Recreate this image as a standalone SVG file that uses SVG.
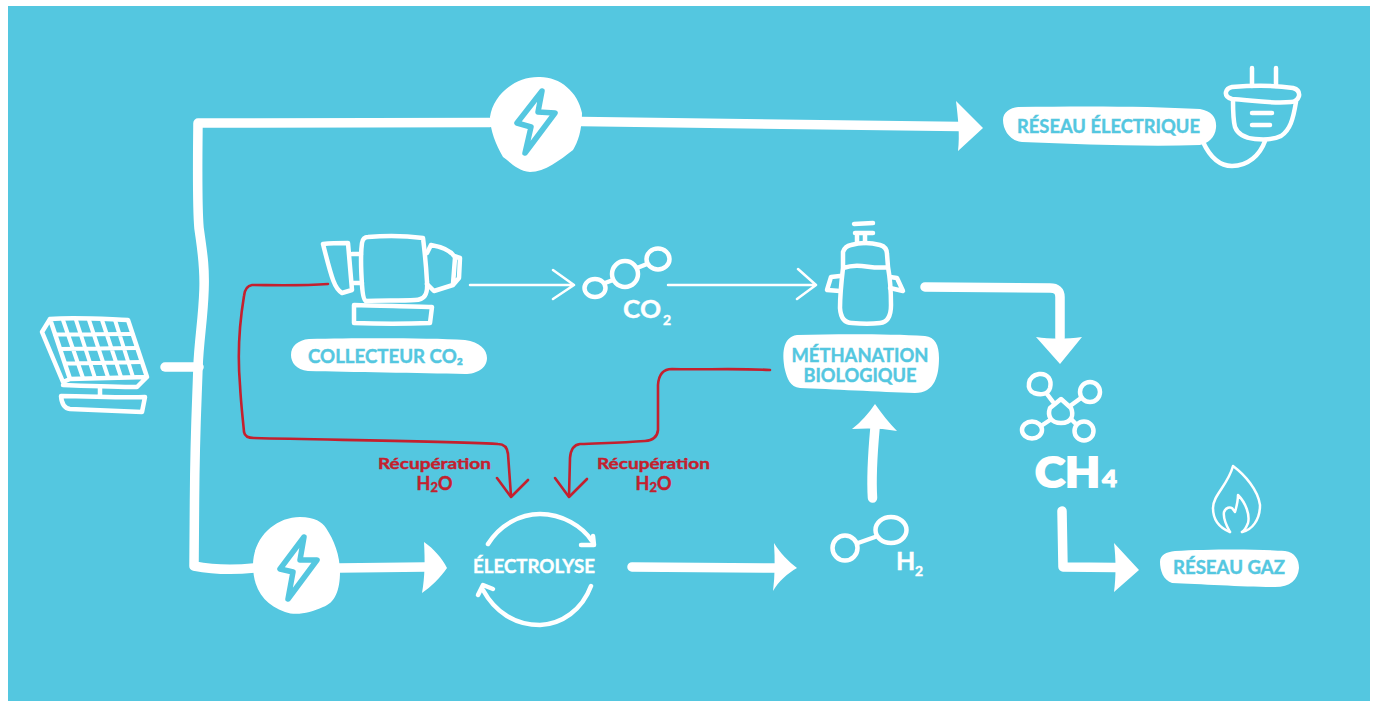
<svg xmlns="http://www.w3.org/2000/svg" width="1375" height="702" viewBox="0 0 1375 702">
<style>
text{font-family:Lato,"Liberation Sans",sans-serif;font-weight:700}
.w{fill:none;stroke:#fff;stroke-width:4.500;stroke-linecap:round;stroke-linejoin:round}
.t{fill:none;stroke:#fff;stroke-width:9.500;stroke-linecap:round;stroke-linejoin:round}
.th{fill:none;stroke:#fff;stroke-width:2.500;stroke-linecap:round;stroke-linejoin:round}
.r{fill:none;stroke:#c4202e;stroke-width:2.600;stroke-linecap:round;stroke-linejoin:round}
.h{fill:#fff;stroke:none}
.b{fill:#fff;stroke:none}
.bolt{fill:#fff;stroke:#54c7e0;stroke-width:5.500;stroke-linejoin:round}
.lb{fill:#54c7e0;stroke:#54c7e0;stroke-width:.4;font-size:18px;text-anchor:middle}
.wt{fill:#fff;stroke:#fff;stroke-width:.4}
.rt{fill:#c4202e;stroke:#c4202e;stroke-width:.4;font-size:16px;text-anchor:middle}
</style>
<rect width="1375" height="702" fill="#fff"/>
<rect x="8" y="6" width="1362" height="695" fill="#54c7e0"/>

<g id="connectors">
<path class="t" d="M165 367H199"/>
<path class="t" d="M490 122.500L198 123C197.500 170 197 205 199 228C202 250 205 265 204 290C203 320 199 340 198 367C197 400 195 430 194.500 500L194 566C215 570 235 570 254 568"/>
<path class="t" d="M581 121.500L960 126.500"/>
<path class="h" d="M956 101L983 128L958 151C960 135 958 118 956 101Z"/>
<path class="t" d="M339 568L425 567"/>
<path class="h" d="M424 542C434 549 442 558 447 568C440 578 431 587 422 593C425 577 425 560 424 542Z"/>
<path class="t" d="M632 567L775 568"/>
<path class="h" d="M774 543C780 553 789 562 797 568C788 573 778 582 773 591C775 576 775 559 774 543Z"/>
<path class="t" d="M872.500 498C871 475 873 450 875 428"/>
<path class="h" d="M852 429C861 422 869 413 875 404C882 414 889 423 897 431C882 428 866 428 852 429Z"/>
<path class="t" d="M925 287L1050 288Q1060 288 1060 297L1060 338"/>
<path class="h" d="M1036 337C1050 339 1067 339 1082 337L1060 364Z"/>
<path class="t" d="M1062 511L1063 567L1116 567.500"/>
<path class="h" d="M1114 543L1139 570L1114 592C1116 577 1116 559 1114 543Z"/>
<path class="th" d="M470 285H574M553 270L574 285L553 299"/>
<path class="th" d="M668 285H815M798 269L816 285L797 299"/>
<path class="r" d="M328 284C300 286 270 285 252 285Q245 286 244 296C240 320 237 350 240 385C241 405 243 420 244 432Q245 438 254 438C330 440 430 441 498 444Q507 444 508 454L511 496"/>
<path class="r" d="M497 478L511 497L528 480"/>
<path class="r" d="M770 370C735 368 700 370 672 369Q659 369 658 385L658 430Q657 440 645 441C620 443 600 443 580 444Q571 445 570 458L569 496"/>
<path class="r" d="M555 478L569 497L587 479"/>
</g>

<g id="solar">
<path class="w" d="M50 319C76 317 102 319 128 320L147 377L70 379ZM50 319L42 332L63 382L70 379M63 385C90 386 115 387 137 387L147 377"/>
<path class="th" style="stroke-width:4" d="M55 334.500L132.500 334M60 349L137 348M65 363.500L141.500 362M63 320L83 378M76 320L95 378M89 320L108 377M102 320L121 377M115 320L133 377"/>
<path class="w" d="M100 388V395M61 396C90 396 120 398 145 397L142 412C120 411 95 410 70 409Q62 408 61 396Z"/>
</g>

<g id="bolt-top">
<path class="b" d="M540 77C560 77 578 92 582 113C582 130 578 142 573 150C560 160 545 172 530 172C518 171 510 162 503 157C496 145 490 130 490 117C493 95 515 76 540 77Z"/>
<path class="bolt" d="M542 91L517 123L531 127L525 153L555 113L538 112Z"/>
</g>

<g id="bolt-bottom">
<path class="b" d="M300 517C315 517 322 522 326 528C334 540 340 555 340 572C340 590 335 603 323 607C310 613 296 616 285 612C265 605 253 590 253 565C253 538 275 517 300 517Z"/>
<path class="bolt" d="M304 537L280 569L293 572L288 599L317 560L300 560Z"/>
</g>

<g id="collector">
<path class="w" d="M368 237C390 235 408 236 423 238Q426 262 427 282C428 295 424 300 415 300C400 301 380 300 366 301Q363 300 362 285C361 270 361 250 362 243Q363 237 368 237Z"/>
<path class="w" d="M323 244C332 243 340 243 348 243L352 290L342 293C335 289 332 280 323 244ZM352 254H361M352 283H362"/>
<path class="w" d="M427 253L431 245C442 247 450 250 454 256L460 258L459 278L453 285L434 291L427 284M455 258L453 284"/>
<path class="w" d="M354 305C380 306 410 306 432 307L430 323C405 324 380 324 354 323Z"/>
</g>
<g id="collector-label">
<path class="b" d="M309 339C360 338 430 338 465 340C480 342 487 350 487 358C487 368 477 374 465 374C420 373 350 372 308 371C296 370 291 362 291 355C291 346 298 340 309 339Z"/>
<text class="lb" x="385.500" y="363" textLength="155" lengthAdjust="spacingAndGlyphs">COLLECTEUR CO₂</text>
</g>

<g id="co2">
<ellipse class="w" cx="595" cy="288" rx="10.500" ry="9"/>
<circle class="w" cx="625" cy="274" r="13"/>
<ellipse class="w" cx="658" cy="259" rx="11.500" ry="10.500"/>
<path class="w" d="M605 283L613 280M637 268L647 264"/>
<text class="wt" x="623" y="318" font-size="25" textLength="38" lengthAdjust="spacingAndGlyphs">CO</text>
<text class="wt" x="663" y="325" font-size="14">2</text>
</g>

<g id="bottle">
<path class="w" d="M854 224L873 223M855 233H873M857 233V243M865 233V243"/>
<path class="w" d="M843 268V252Q845 246 851 245C862 242 872 243 880 245Q887 247 887 254L888 267C870 270 862 262 843 268ZM843 268C841 285 840 298 840 308Q841 323 852 323C862 324 872 324 880 323Q891 322 891 305C891 290 890 278 888 267"/>
<path class="w" d="M840 276L831 277L827 290L840 291M890 277L897 278L903 291L890 288"/>
</g>
<g id="methanation-label">
<path class="b" d="M797 335C840 334 890 334 925 336C935 337 939 345 939 358C939 375 935 393 915 393C880 392 830 389 800 388C790 387 787 378 785 370C782 355 782 337 797 335Z"/>
<text class="lb" x="860" y="361.500" textLength="137" lengthAdjust="spacingAndGlyphs">MÉTHANATION</text>
<text class="lb" x="860" y="381.500" textLength="113" lengthAdjust="spacingAndGlyphs">BIOLOGIQUE</text>
</g>

<g id="recup-left"><text class="rt" x="434.500" y="469" textLength="113" lengthAdjust="spacingAndGlyphs">Récupération</text><text class="rt" x="434.500" y="490" style="font-size:18px">H<tspan dy="2" style="font-size:13px">2</tspan><tspan dy="-2">O</tspan></text></g>
<g id="recup-right"><text class="rt" x="653.500" y="469" textLength="113" lengthAdjust="spacingAndGlyphs">Récupération</text><text class="rt" x="653.500" y="490" style="font-size:18px">H<tspan dy="2" style="font-size:13px">2</tspan><tspan dy="-2">O</tspan></text></g>

<g id="electrolyse">
<path class="w" d="M488 544C500 525 520 514 540 514C562 514 582 526 592 541"/>
<path class="w" d="M581 545L594 545L593 536"/>
<path class="w" d="M591 586C582 610 562 624 540 625C515 625 495 612 483 590"/>
<path class="w" d="M478 595L483 585L493 589"/>
<text class="wt" x="534" y="573" text-anchor="middle" font-size="18" textLength="122" lengthAdjust="spacingAndGlyphs">ÉLECTROLYSE</text>
</g>

<g id="h2">
<circle class="w" cx="845" cy="548" r="12.500"/>
<ellipse class="w" cx="891" cy="530" rx="15.500" ry="13"/>
<path class="w" d="M858 543L875 537"/>
<text class="wt" x="896" y="570" font-size="25">H</text>
<text class="wt" x="915" y="576" font-size="14">2</text>
</g>

<g id="reseau-electrique">
<path class="b" d="M1018 107C1080 106 1150 106 1200 109C1212 111 1217 118 1216 128C1215 138 1208 143 1200 145C1140 147 1080 144 1022 142C1010 141 1003 130 1003 120C1003 112 1010 108 1018 107Z"/>
<text class="lb" x="1108.500" y="133" textLength="183" lengthAdjust="spacingAndGlyphs">RÉSEAU ÉLECTRIQUE</text>
<path class="w" d="M1252 68V86M1276 68V86"/>
<path class="w" d="M1232 87C1255 85 1280 86 1293 88Q1300 90 1299 96Q1297 102 1291 102C1270 104 1250 100 1232 99Q1225 97 1226 92Q1227 88 1232 87Z"/>
<path class="w" d="M1233 100C1233 110 1233 120 1235 127C1238 135 1245 138 1255 139C1265 140 1275 139 1281 136C1290 130 1293 120 1296 102"/>
<path class="w" d="M1252 113H1272M1252 125H1270"/>
<path class="w" d="M1203 142C1210 157 1220 166 1232 166C1248 166 1260 155 1265 141"/>
</g>

<g id="ch4">
<path class="w" d="M1061 399L1071 408C1074 415 1072 423 1061 423C1051 423 1047 416 1050 408Z"/>
<path class="w" d="M1039 374C1048 373 1052 380 1050 388C1048 395 1040 395 1034 393C1026 390 1027 376 1039 374Z"/>
<circle class="w" cx="1090" cy="392" r="10"/>
<ellipse class="w" cx="1032" cy="430" rx="10" ry="8.500"/>
<ellipse class="w" cx="1084" cy="431" rx="9.500" ry="9.500"/>
<path class="w" d="M1047 394L1053 402M1081 398L1070 406M1041 426L1050 420M1076 424L1071 419"/>
<text x="1035" y="486.500" font-size="41" fill="#fff" stroke="#fff" stroke-width="2" style="font-weight:900" textLength="65" lengthAdjust="spacingAndGlyphs">CH</text>
<text x="1102" y="487" font-size="23" fill="#fff" stroke="#fff" stroke-width="1" style="font-weight:900" textLength="15" lengthAdjust="spacingAndGlyphs">4</text>
</g>

<g id="reseau-gaz">
<path class="b" d="M1175 551C1210 549 1260 549 1285 551C1295 552 1299 560 1299 568C1298 580 1290 587 1275 587C1245 587 1200 584 1172 583C1163 580 1160 570 1160 562C1160 555 1166 552 1175 551Z"/>
<text class="lb" x="1229" y="574" textLength="112" lengthAdjust="spacingAndGlyphs">RÉSEAU GAZ</text>
<path class="th" d="M1230 532C1220 528 1213 520 1213 508C1213 495 1228 485 1233 466C1245 475 1258 490 1260 505C1260 520 1252 530 1242 532"/>
<path class="th" d="M1230 532C1226 525 1223 518 1224 512C1226 507 1230 507 1232 508L1235 512C1237 505 1238 500 1238 495C1246 503 1250 515 1248 523C1246 528 1244 531 1242 532"/>
</g>
</svg>
